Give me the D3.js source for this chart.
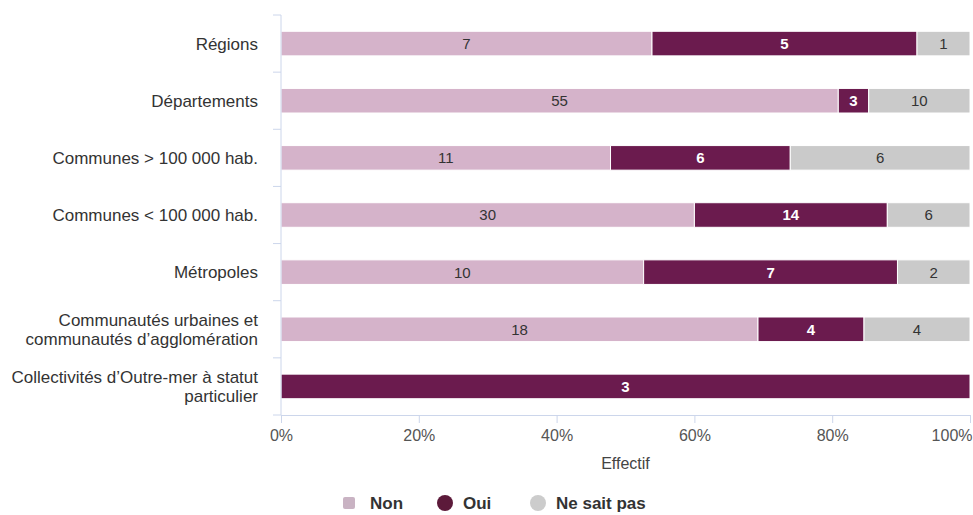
<!DOCTYPE html>
<html lang="fr">
<head>
<meta charset="UTF-8">
<title>Effectif</title>
<style>
  body { margin: 0; background: #fff; }
  svg { font-family: "Liberation Sans", Arial, sans-serif; display: block; }
  .axis path, .axis line { stroke: #ccd6eb; }
  .axis text { fill: #444; font-size: 16px; }
</style>
</head>
<body>
<svg width="973" height="515"></svg>
<script src="https://d3js.org/d3.v7.min.js"></script>
<script>
// data (counts per answer)
var categories = [
  "Régions",
  "Départements",
  "Communes > 100 000 hab.",
  "Communes < 100 000 hab.",
  "Métropoles",
  "Communautés urbaines et\ncommunautés d’agglomération",
  "Collectivités d’Outre-mer à statut\nparticulier"
];
var non = [7, 55, 11, 30, 10, 18, 0];
var oui = [5, 3, 6, 14, 7, 4, 3];
var nsp = [1, 10, 6, 6, 2, 4, 0];
var seriesNames = ["Non", "Oui", "Ne sait pas"];
var xTicks = [0, 0.2, 0.4, 0.6, 0.8, 1];

var colors = {"Non": "#d5b3ca", "Oui": "#6b1b4e", "Ne sait pas": "#cacaca"};
var labelColors = {"Non": "#333", "Oui": "#fff", "Ne sait pas": "#333"};

var svg = d3.select("svg"),
    margin = {top: 15, right: 3, bottom: 100, left: 281},
    width = +svg.attr("width") - margin.left - margin.right,
    height = +svg.attr("height") - margin.top - margin.bottom;

var rows = categories.map(function (c, i) {
  return {cat: c, "Non": non[i], "Oui": oui[i], "Ne sait pas": nsp[i]};
});

var stacked = d3.stack()
    .keys(seriesNames)
    .offset(d3.stackOffsetExpand)(rows);

var x = d3.scaleLinear().domain([0, 1]).range([0, width]);
var y = d3.scaleBand().domain(categories).range([0, height]).paddingInner(0.57).paddingOuter(0.285);

var g = svg.append("g")
    .attr("transform", "translate(" + margin.left + "," + margin.top + ")");

// bars
var layer = g.selectAll(".layer")
  .data(stacked)
  .enter().append("g")
    .attr("class", "layer")
    .attr("fill", function (d) { return colors[d.key]; });

layer.selectAll("rect")
  .data(function (d) { return d; })
  .enter().append("rect")
    .attr("x", function (d) { return x(d[0]); })
    .attr("y", function (d) { return y(d.data.cat); })
    .attr("width", function (d) { return Math.max(0, x(d[1]) - x(d[0])); })
    .attr("height", y.bandwidth())
    .attr("stroke", "#fff")
    .attr("stroke-width", 1);

// data labels
stacked.forEach(function (s) {
  g.selectAll(null)
    .data(s.filter(function (d) { return d.data[s.key] > 0; }))
    .enter().append("text")
      .attr("x", function (d) { return (x(d[0]) + x(d[1])) / 2; })
      .attr("y", function (d) { return y(d.data.cat) + y.bandwidth() / 2; })
      .attr("dy", "0.36em")
      .attr("text-anchor", "middle")
      .attr("font-size", "15px")
      .attr("font-weight", s.key === "Oui" ? "bold" : "normal")
      .attr("fill", labelColors[s.key])
      .text(function (d) { return d.data[s.key]; });
});

// x axis
var xAxis = g.append("g")
    .attr("class", "axis axis--x")
    .attr("transform", "translate(0," + height + ")")
    .call(d3.axisBottom(x).tickValues(xTicks).tickFormat(d3.format(".0%")).tickSize(8).tickPadding(7));
xAxis.selectAll("text").style("fill", "#555");
// keep the last label inside the frame
xAxis.selectAll(".tick").filter(function (d) { return d === 1; })
  .select("text").attr("text-anchor", "end").attr("x", 2);

g.append("text")
    .attr("x", width / 2)
    .attr("y", height + 54)
    .attr("text-anchor", "middle")
    .attr("font-size", "16px")
    .attr("fill", "#444")
    .text("Effectif");

// y axis: line + ticks between categories
var yAxis = g.append("g").attr("class", "axis axis--y");
yAxis.append("line")
    .attr("x1", 0).attr("x2", 0)
    .attr("y1", 0).attr("y2", height);
yAxis.selectAll(".tick-between")
  .data(d3.range(categories.length + 1))
  .enter().append("line")
    .attr("x1", -8).attr("x2", 0)
    .attr("y1", function (i) { return i * y.step(); })
    .attr("y2", function (i) { return i * y.step(); });

var lineH = 19;
yAxis.selectAll(".ylab")
  .data(categories)
  .enter().append("text")
    .attr("class", "ylab")
    .attr("text-anchor", "end")
    .style("font-size", "17px")
    .style("fill", "#333")
    .each(function (d) {
      var lines = d.split("\n");
      var cy = y(d) + y.bandwidth() / 2;
      var t = d3.select(this);
      lines.forEach(function (l, i) {
        t.append("tspan")
          .attr("x", -23)
          .attr("y", cy + (i - (lines.length - 1) / 2) * lineH)
          .attr("dy", "0.36em")
          .text(l);
      });
    });

// legend
var legend = svg.append("g").attr("class", "legend");
var legendItems = [
  {name: "Non", shape: "square", color: "#c9b3c3", x: 343},
  {name: "Oui", shape: "circle", color: "#5c1a3a", x: 437},
  {name: "Ne sait pas", shape: "circle", color: "#cccccc", x: 530}
];
legendItems.forEach(function (it) {
  var lg = legend.append("g").attr("transform", "translate(" + it.x + ",503)");
  if (it.shape === "square") {
    lg.append("rect").attr("x", 0).attr("y", -6).attr("width", 12).attr("height", 12)
      .attr("rx", 2).attr("fill", it.color);
  } else {
    lg.append("circle").attr("cx", 8).attr("cy", 0).attr("r", 8).attr("fill", it.color);
  }
  lg.append("text")
    .attr("x", it.name === "Non" ? 27 : 26)
    .attr("y", 0)
    .attr("dy", "0.36em")
    .attr("font-size", "17px")
    .attr("font-weight", "bold")
    .attr("fill", "#333")
    .text(it.name);
});
</script>
</body>
</html>
